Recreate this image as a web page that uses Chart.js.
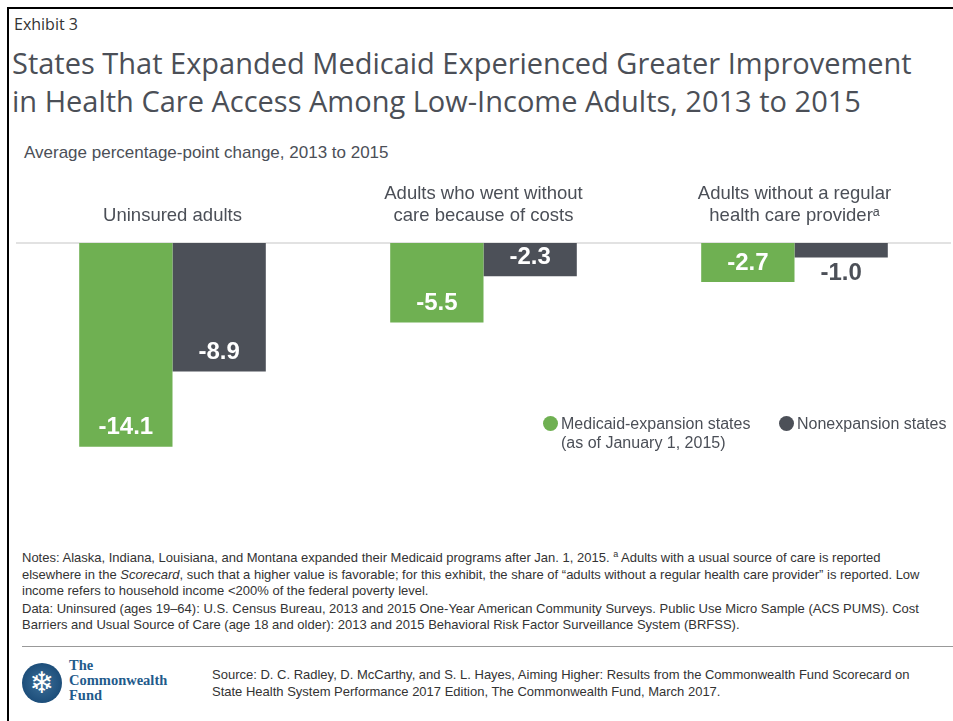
<!DOCTYPE html>
<html>
<head>
<meta charset="utf-8">
<script src="https://cdn.jsdelivr.net/npm/chart.js@4"></script>
<style>
  html, body { margin: 0; padding: 0; background: #fff; }
  body { width: 953px; height: 721px; position: relative; overflow: hidden; font-family: "Liberation Sans", Arial, sans-serif; color: #4b4f57; }
  .frame-left { position: absolute; left: 7px; top: 7px; width: 2px; height: 714px; background: #000; }
  .frame-top { position: absolute; left: 7px; top: 7px; width: 946px; height: 2px; background: #000; }
  .exhibit { position: absolute; left: 14px; top: 13px; font: 16px "Open Sans", sans-serif; color: #333; }
  .title { position: absolute; left: 12px; top: 44px; font: 29px/38px "Open Sans", sans-serif; color: #4b4f57; white-space: nowrap; }
  .subtitle { position: absolute; left: 24px; top: 143px; font-size: 17px; color: #4b4f57; }
  #wrap { position: absolute; left: 0; top: 170px; width: 953px; height: 362px; }
  .legend { position: absolute; top: 414px; font-size: 16px; line-height: 19px; color: #4b4f57; }
  .legend .dot { position: absolute; left: -18px; top: 2px; width: 15px; height: 15px; border-radius: 50%; }
  .notes { position: absolute; left: 22px; top: 546px; width: 920px; font: 13px/16.5px "Liberation Sans Narrow", "Liberation Sans", sans-serif; color: #333; }
  .notes p { margin: 0 0 1px 0; }
  .sep { position: absolute; left: 22px; top: 646px; width: 931px; height: 1px; background: #999; }
  .logo { position: absolute; left: 22px; top: 663px; width: 40px; height: 40px; border-radius: 50%; background: radial-gradient(circle, #3c6f99 0%, #1d4e7a 70%); color: #fff; text-align: center; font: 30px/40px "DejaVu Sans", sans-serif; }
  .logotext { position: absolute; left: 69px; top: 658px; font: bold 14.5px/15px "Liberation Serif", serif; color: #1f5b8c; }
  .source { position: absolute; left: 212px; top: 667px; font: 13px/16.5px "Liberation Sans Narrow", "Liberation Sans", sans-serif; color: #333; }
</style>
</head>
<body>
<div class="frame-left"></div>
<div class="frame-top"></div>
<div class="exhibit">Exhibit 3</div>
<div class="title">States That Expanded Medicaid Experienced Greater Improvement<br>in Health Care Access Among Low-Income Adults, 2013 to 2015</div>
<div class="subtitle">Average percentage-point change, 2013 to 2015</div>
<div id="wrap"><canvas id="myChart"></canvas></div>
<div class="legend" style="left:561px;"><span class="dot" style="background:#6fb052"></span>Medicaid-expansion states<br>(as of January 1, 2015)</div>
<div class="legend" style="left:797px;"><span class="dot" style="background:#4c5058"></span>Nonexpansion states</div>
<div class="notes">
  <p>Notes: Alaska, Indiana, Louisiana, and Montana expanded their Medicaid programs after Jan. 1, 2015. <sup style="font-size:9px">a</sup> Adults with a usual source of care is reported elsewhere in the <i>Scorecard</i>, such that a higher value is favorable; for this exhibit, the share of “adults without a regular health care provider” is reported. Low income refers to household income &lt;200% of the federal poverty level.</p>
  <p>Data: Uninsured (ages 19–64): U.S. Census Bureau, 2013 and 2015 One-Year American Community Surveys. Public Use Micro Sample (ACS PUMS). Cost Barriers and Usual Source of Care (age 18 and older): 2013 and 2015 Behavioral Risk Factor Surveillance System (BRFSS).</p>
</div>
<div class="sep"></div>
<div class="logo">❄</div>
<div class="logotext">The<br>Commonwealth<br>Fund</div>
<div class="source">Source: D. C. Radley, D. McCarthy, and S. L. Hayes, Aiming Higher: Results from the Commonwealth Fund Scorecard on<br>State Health System Performance 2017 Edition, The Commonwealth Fund, March 2017.</div>

<script>
const categories = [
    ['Uninsured adults'],
    ['Adults who went without', 'care because of costs'],
    ['Adults without a regular', 'health care providerᵃ']
];
const expansionStates = [-14.1, -5.5, -2.7];
const nonexpansionStates = [-8.9, -2.3, -1.0];
const seriesNames = ['Medicaid-expansion states (as of January 1, 2015)', 'Nonexpansion states'];

const GREEN = '#6fb052';
const DARK = '#4c5058';

// value labels at the bottom of each bar, white inside or dark below if too short
const barLabels = {
    id: 'barLabels',
    afterDatasetsDraw(chart) {
        const ctx = chart.ctx;
        ctx.save();
        ctx.font = 'bold 24px "Liberation Sans", Arial, sans-serif';
        ctx.textAlign = 'center';
        ctx.textBaseline = 'middle';
        chart.data.datasets.forEach((ds, i) => {
            chart.getDatasetMeta(i).data.forEach((bar, j) => {
                const v = ds.data[j];
                const h = bar.y - bar.base;
                if (h > 30) {
                    ctx.fillStyle = '#fff';
                    ctx.fillText(v.toFixed(1), bar.x, bar.y - 19);
                } else {
                    ctx.fillStyle = DARK;
                    ctx.fillText(v.toFixed(1), bar.x, bar.y + 16);
                }
            });
        });
        ctx.restore();
    }
};

const ctx = document.getElementById('myChart').getContext('2d');
new Chart(ctx, {
    type: 'bar',
    data: {
        labels: categories,
        datasets: [{
            label: seriesNames[0],
            data: expansionStates,
            backgroundColor: GREEN
        }, {
            label: seriesNames[1],
            data: nonexpansionStates,
            backgroundColor: DARK
        }]
    },
    options: {
        responsive: true,
        maintainAspectRatio: false,
        animation: false,
        barPercentage: 1,
        categoryPercentage: 0.6,
        layout: { padding: { left: 17, right: 3, top: 0, bottom: 0 } },
        scales: {
            x: {
                position: 'top',
                grid: { display: false, drawTicks: false },
                border: { display: true, color: '#e2e2e2', width: 2 },
                ticks: {
                    color: '#4b4f57',
                    font: { size: 18.5, family: '"Liberation Sans", Arial, sans-serif', lineHeight: 1.2 },
                    padding: 16,
                    maxRotation: 0
                },
                afterFit(scale) { scale.height = 73; }
            },
            y: {
                display: false,
                min: -20,
                max: 0
            }
        },
        plugins: {
            legend: { display: false },
            tooltip: { enabled: false }
        }
    },
    plugins: [barLabels]
});
</script>
</body>
</html>
